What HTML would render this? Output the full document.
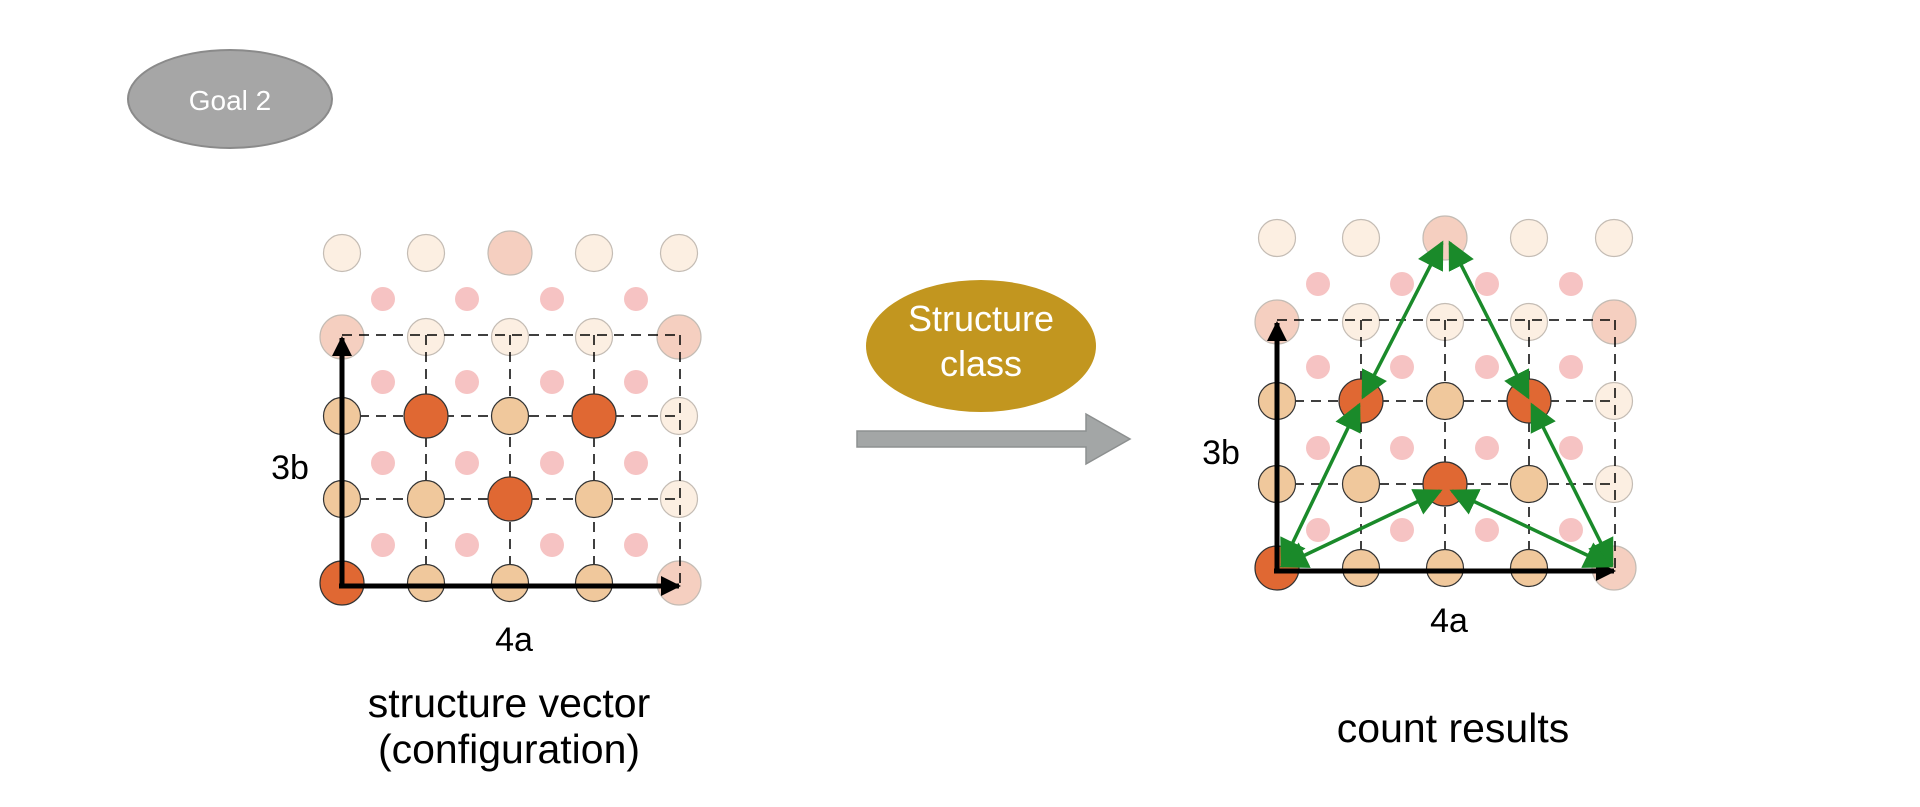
<!DOCTYPE html>
<html><head><meta charset="utf-8"><style>
body{margin:0;background:#fff;}
svg{display:block;}
text{font-family:"Liberation Sans",sans-serif;}
</style></head><body>
<svg width="1920" height="807" viewBox="0 0 1920 807" xmlns="http://www.w3.org/2000/svg">
<defs>
<marker id="ak" viewBox="0 0 10 10" refX="9" refY="5" markerWidth="4" markerHeight="4" orient="auto-start-reverse"><path d="M0,0 L10,5 L0,10 z" fill="#000"/></marker>
<marker id="ag" viewBox="0 0 10 10" refX="9" refY="5" markerWidth="8" markerHeight="8" orient="auto-start-reverse"><path d="M0,0 L10,5 L0,10 z" fill="#1a8a2a"/></marker>
</defs>
<ellipse cx="230" cy="99" rx="102" ry="49" fill="#a6a6a6" stroke="#8a8a8a" stroke-width="2"/>
<text x="230" y="110" font-size="28" fill="#fff" text-anchor="middle">Goal 2</text>
<ellipse cx="981" cy="346" rx="115" ry="66" fill="#c2961f"/>
<text x="981" y="331" font-size="36" fill="#fff" text-anchor="middle">Structure</text>
<text x="981" y="376" font-size="36" fill="#fff" text-anchor="middle">class</text>
<path d="M857,431 L1086,431 L1086,414 L1130,439 L1086,464 L1086,447 L857,447 z" fill="#a3a6a6" stroke="#8d9090" stroke-width="1.5"/>

<g id="L">
<g fill="#f6c3c3">
<circle cx="383" cy="299" r="12"/><circle cx="467" cy="299" r="12"/><circle cx="552" cy="299" r="12"/><circle cx="636" cy="299" r="12"/>
<circle cx="383" cy="382" r="12"/><circle cx="467" cy="382" r="12"/><circle cx="552" cy="382" r="12"/><circle cx="636" cy="382" r="12"/>
<circle cx="383" cy="463" r="12"/><circle cx="467" cy="463" r="12"/><circle cx="552" cy="463" r="12"/><circle cx="636" cy="463" r="12"/>
<circle cx="383" cy="545" r="12"/><circle cx="467" cy="545" r="12"/><circle cx="552" cy="545" r="12"/><circle cx="636" cy="545" r="12"/>
</g>
<g stroke="#c4bcb4" stroke-width="1.2">
<circle cx="342" cy="253" r="18.5" fill="#fcefe2"/><circle cx="426" cy="253" r="18.5" fill="#fcefe2"/><circle cx="510" cy="253" r="22" fill="#f5cfc0"/><circle cx="594" cy="253" r="18.5" fill="#fcefe2"/><circle cx="679" cy="253" r="18.5" fill="#fcefe2"/>
<circle cx="342" cy="337" r="22" fill="#f5cfc0"/><circle cx="426" cy="337" r="18.5" fill="#fcefe2"/><circle cx="510" cy="337" r="18.5" fill="#fcefe2"/><circle cx="594" cy="337" r="18.5" fill="#fcefe2"/><circle cx="679" cy="337" r="22" fill="#f5cfc0"/>
<circle cx="679" cy="416" r="18.5" fill="#fcefe2"/><circle cx="679" cy="499" r="18.5" fill="#fcefe2"/><circle cx="679" cy="583" r="22" fill="#f5cfc0"/>
</g>
<g stroke="#000" stroke-width="1.5" stroke-dasharray="10,7" fill="none">
<path d="M342,335 H680 M342,416 H680 M342,499 H680"/>
<path d="M426,335 V583 M510,335 V583 M594,335 V583 M680,335 V583"/>
</g>
<g stroke="#333" stroke-width="1.2">
<circle cx="342" cy="416" r="18.5" fill="#f0c89c"/><circle cx="426" cy="416" r="22" fill="#e06833"/><circle cx="510" cy="416" r="18.5" fill="#f0c89c"/><circle cx="594" cy="416" r="22" fill="#e06833"/>
<circle cx="342" cy="499" r="18.5" fill="#f0c89c"/><circle cx="426" cy="499" r="18.5" fill="#f0c89c"/><circle cx="510" cy="499" r="22" fill="#e06833"/><circle cx="594" cy="499" r="18.5" fill="#f0c89c"/>
<circle cx="342" cy="583" r="22" fill="#e06833"/><circle cx="426" cy="583" r="18.5" fill="#f0c89c"/><circle cx="510" cy="583" r="18.5" fill="#f0c89c"/><circle cx="594" cy="583" r="18.5" fill="#f0c89c"/>
</g>
<path d="M342,586 V338" stroke="#000" stroke-width="5" marker-end="url(#ak)"/>
<path d="M339,586 H679" stroke="#000" stroke-width="5" marker-end="url(#ak)"/>
</g>
<use href="#L" transform="translate(935,-15)"/>

<text x="290" y="479" font-size="34" text-anchor="middle">3b</text>
<text x="514" y="651" font-size="34" text-anchor="middle">4a</text>
<text x="509" y="717" font-size="41" text-anchor="middle">structure vector</text>
<text x="509" y="763" font-size="41" text-anchor="middle">(configuration)</text>
<text x="1221" y="464" font-size="34" text-anchor="middle">3b</text>
<text x="1449" y="632" font-size="34" text-anchor="middle">4a</text>
<text x="1453" y="742" font-size="41" text-anchor="middle">count results</text>

<g stroke="#1a8a2a" stroke-width="3.5" fill="none" marker-start="url(#ag)" marker-end="url(#ag)">
<path d="M1282,565 L1359,405"/>
<path d="M1363,397 L1442,243"/>
<path d="M1450,243 L1528,397"/>
<path d="M1532,405 L1612,565"/>
<path d="M1282,566 L1440,491"/>
<path d="M1610,566 L1452,491"/>
</g>
</svg>
</body></html>
